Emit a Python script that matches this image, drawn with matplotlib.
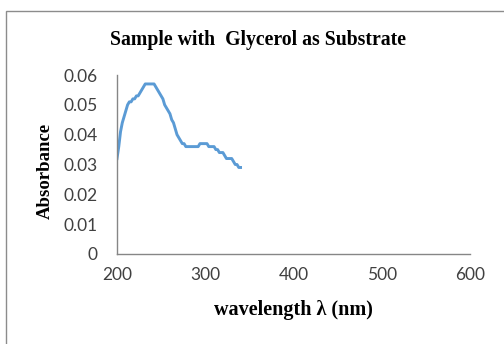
import matplotlib
matplotlib.use("Agg")
import matplotlib.pyplot as plt
from matplotlib.patches import Rectangle

wavelength = [200, 202, 204, 206, 208, 210, 212, 214, 216, 218, 220, 222, 224, 226, 228,
              230, 232, 234, 236, 238, 240, 242, 244, 246, 248, 250, 252, 254, 256, 258,
              260, 262, 264, 266, 268, 270, 272, 274, 276, 278, 280, 282, 284, 286, 288,
              290, 292, 294, 296, 298, 300, 302, 304, 306, 308, 310, 312, 314, 316, 318,
              320, 322, 324, 326, 328, 330, 332, 334, 336, 338, 340]
absorbance = [0.032, 0.036, 0.041, 0.044, 0.046, 0.048, 0.050, 0.051, 0.051, 0.052, 0.052,
              0.053, 0.053, 0.054, 0.055, 0.056, 0.057, 0.057, 0.057, 0.057, 0.057, 0.057,
              0.056, 0.055, 0.054, 0.053, 0.052, 0.050, 0.049, 0.048, 0.047, 0.045, 0.044,
              0.042, 0.040, 0.039, 0.038, 0.037, 0.037, 0.036, 0.036, 0.036, 0.036, 0.036,
              0.036, 0.036, 0.036, 0.037, 0.037, 0.037, 0.037, 0.037, 0.036, 0.036, 0.036,
              0.036, 0.035, 0.035, 0.034, 0.034, 0.034, 0.033, 0.032, 0.032, 0.032, 0.032,
              0.031, 0.030, 0.030, 0.029, 0.029]
x_ticks = [200, 300, 400, 500, 600]
y_ticks = [0, 0.01, 0.02, 0.03, 0.04, 0.05, 0.06]
y_tick_labels = ["0", "0.01", "0.02", "0.03", "0.04", "0.05", "0.06"]

W, H = 504, 344
fig = plt.figure(figsize=(W / 100, H / 100), dpi=100)
fig.patch.set_facecolor("white")

# outer chart frame (extends past right/bottom of the crop)
fig.patches.append(Rectangle((6 / W, -0.05), 1.2, 1 - 11 / H + 0.05,
                             transform=fig.transFigure, fill=False,
                             edgecolor="#8c8c8c", linewidth=1.0))

ax = fig.add_axes([117 / W, 1 - 254 / H, (470 - 117) / W, (254 - 75) / H])
ax.plot(wavelength, absorbance, color="#5B9BD5", linewidth=2.1, solid_joinstyle="round")

ax.set_xlim(200, 600)
ax.set_ylim(0, 0.06)
ax.set_xticks(x_ticks)
ax.set_yticks(y_ticks)
ax.set_yticklabels(y_tick_labels)

for s in ["top", "right"]:
    ax.spines[s].set_visible(False)
for s in ["left", "bottom"]:
    ax.spines[s].set_color("#868686")
    ax.spines[s].set_linewidth(1.0)

ax.tick_params(axis="both", length=0, labelsize=12.5, labelcolor="#404040")
ax.tick_params(axis="y", pad=14)
ax.tick_params(axis="x", pad=9)
for lab in ax.get_xticklabels() + ax.get_yticklabels():
    lab.set_fontfamily("Lato")

fig.text(258 / W, 1 - 40 / H, "Sample with  Glycerol as Substrate", ha="center", va="center",
         fontsize=14.2, fontweight="bold", family="Liberation Serif")
fig.text(293 / W, 1 - 310 / H, "wavelength λ (nm)", ha="center", va="center",
         fontsize=14.5, fontweight="bold", family="Liberation Serif")
fig.text(45 / W, 1 - 171 / H, "Absorbance", ha="center", va="center", rotation=90,
         fontsize=13.5, fontweight="bold", family="Liberation Serif")

fig.savefig("out.png", dpi=100)
